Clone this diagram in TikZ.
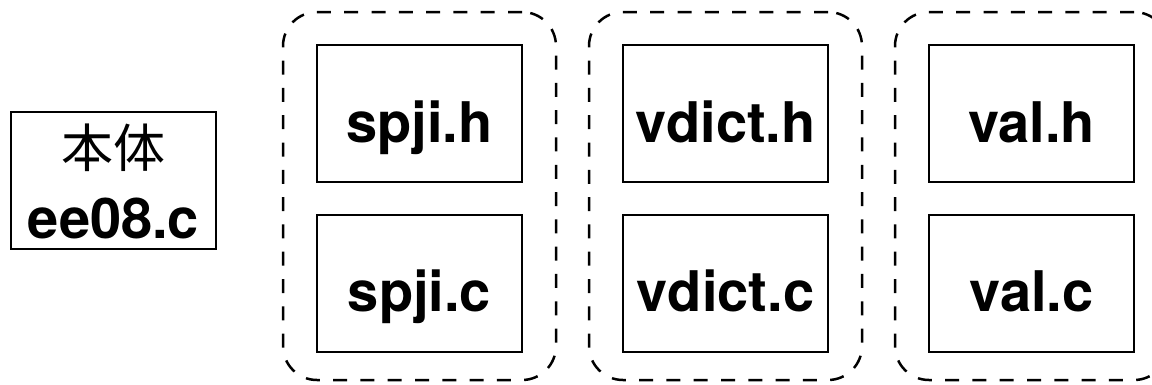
\documentclass[tikz,border=0pt]{standalone}
\usepackage{fontspec}
\setmainfont{TeX Gyre Heros}
\newfontfamily\cjk{Noto Sans CJK JP}
\begin{document}
\begin{tikzpicture}[x=1pt,y=-1pt,
  boxline/.style={draw,line width=2pt,minimum width=205pt,minimum height=137pt,inner sep=0pt},
  filebox/.style={boxline,font=\fontsize{56}{60}\selectfont\bfseries,
    text height=57pt,text depth=0pt},
  label/.style={anchor=base,inner sep=0pt},
  modgroup/.style={draw,line width=2.5pt,dash pattern=on 14pt off 13.3pt,
    rounded corners=34pt,minimum width=273pt,minimum height=368pt,inner sep=0pt}]
  \useasboundingbox (0,0) rectangle (1152,384);
  % main program
  \node[boxline] (main) at (113.5,180.5) {};
  \node[label,font=\fontsize{52}{56}\selectfont\cjk] (mainname) at (113.5,167) {本体};
  \node[label,font=\fontsize{56}{60}\selectfont\bfseries] (mainfile) at (113.5,238) {ee08.c};
  % modules: header above source, grouped by a dashed outline
  \node[modgroup] (g1) at (419.5,196) {};
  \node[modgroup] (g2) at (725.5,196) {};
  \node[modgroup] (g3) at (1031.5,196) {};
  \node[filebox] (spjih) at (419.5,113.5) {spji.h};
  \node[filebox] (spjic) at (419.5,283) {spji.c};
  \node[filebox] (vdicth) at (725.5,113.5) {vdict.h};
  \node[filebox] (vdictc) at (725.5,283) {vdict.c};
  \node[filebox] (valh) at (1031.5,113.5) {val.h};
  \node[filebox] (valc) at (1031.5,283) {val.c};
\end{tikzpicture}
\end{document}
